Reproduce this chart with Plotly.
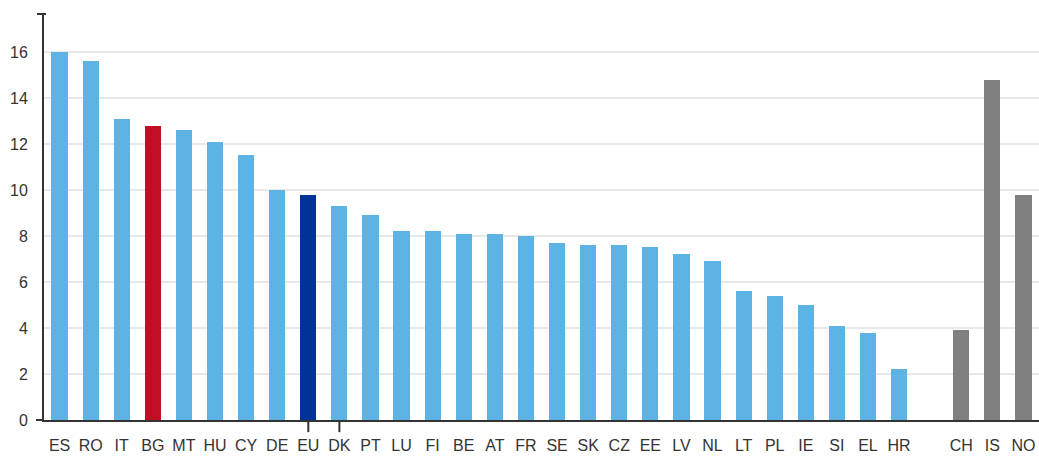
import plotly.graph_objects as go

countries = ["ES", "RO", "IT", "BG", "MT", "HU", "CY", "DE", "EU", "DK", "PT", "LU", "FI", "BE",
             "AT", "FR", "SE", "SK", "CZ", "EE", "LV", "NL", "LT", "PL", "IE", "SI", "EL", "HR",
             "CH", "IS", "NO"]
values = [16.0, 15.6, 13.1, 12.8, 12.6, 12.1, 11.5, 10.0, 9.8, 9.3, 8.9, 8.2, 8.2, 8.1,
          8.1, 8.0, 7.7, 7.6, 7.6, 7.5, 7.2, 6.9, 5.6, 5.4, 5.0, 4.1, 3.8, 2.2,
          3.9, 14.8, 9.8]
y_ticks = [0, 2, 4, 6, 8, 10, 12, 14, 16]

LIGHT = "#5db3e3"
RED = "#c20e24"
DARK = "#003399"
GREY = "#808080"
non_eu = {"CH", "IS", "NO"}

positions = []
colors = []
for i, c in enumerate(countries):
    pos = i + (1 if c in non_eu else 0)
    positions.append(pos)
    if c == "BG":
        colors.append(RED)
    elif c == "EU":
        colors.append(DARK)
    elif c in non_eu:
        colors.append(GREY)
    else:
        colors.append(LIGHT)

fig = go.Figure(go.Bar(x=positions, y=values, marker=dict(color=colors, line=dict(width=0)),
                       width=0.52, hoverinfo="x+y"))

font = dict(family="Liberation Sans, Arial, sans-serif", size=16, color="#333333")

fig.update_layout(
    width=1039, height=461,
    margin=dict(l=44, r=0, t=14, b=41),
    paper_bgcolor="white", plot_bgcolor="white",
    showlegend=False, font=font, bargap=0,
    xaxis=dict(range=[-0.5, 31.5], tickmode="array", tickvals=positions, ticktext=countries,
               showgrid=False, zeroline=False, showline=True, linecolor="#333333", linewidth=2,
               ticks="outside", ticklen=10, tickcolor="rgba(0,0,0,0)", tickfont=font,
               automargin=False),
    yaxis=dict(range=[0, 17.65], tickmode="array", tickvals=y_ticks,
               showgrid=True, gridcolor="#e8e8e8", gridwidth=1.5, zeroline=False,
               showline=True, linecolor="#333333", linewidth=2,
               ticks="outside", ticklen=11, tickcolor="rgba(0,0,0,0)", tickfont=font,
               automargin=False),
)

# x ticks under EU and DK
for c in ["EU", "DK"]:
    p = positions[countries.index(c)]
    fig.add_shape(type="line", xref="x", yref="paper", x0=p, x1=p, y0=0, y1=-0.03,
                  line=dict(color="#333333", width=2))
# stub extending the baseline to the left, and the top stub
fig.add_shape(type="line", xref="paper", yref="paper", x0=-0.008, x1=0, y0=0, y1=0,
              line=dict(color="#333333", width=2))
fig.add_shape(type="line", xref="paper", yref="paper", x0=-0.007, x1=0.002, y0=1, y1=1,
              line=dict(color="#333333", width=2))

fig.write_html("out.html", config={"displayModeBar": False},
               post_script="document.body.style.margin='0';document.body.style.overflow='hidden';")
